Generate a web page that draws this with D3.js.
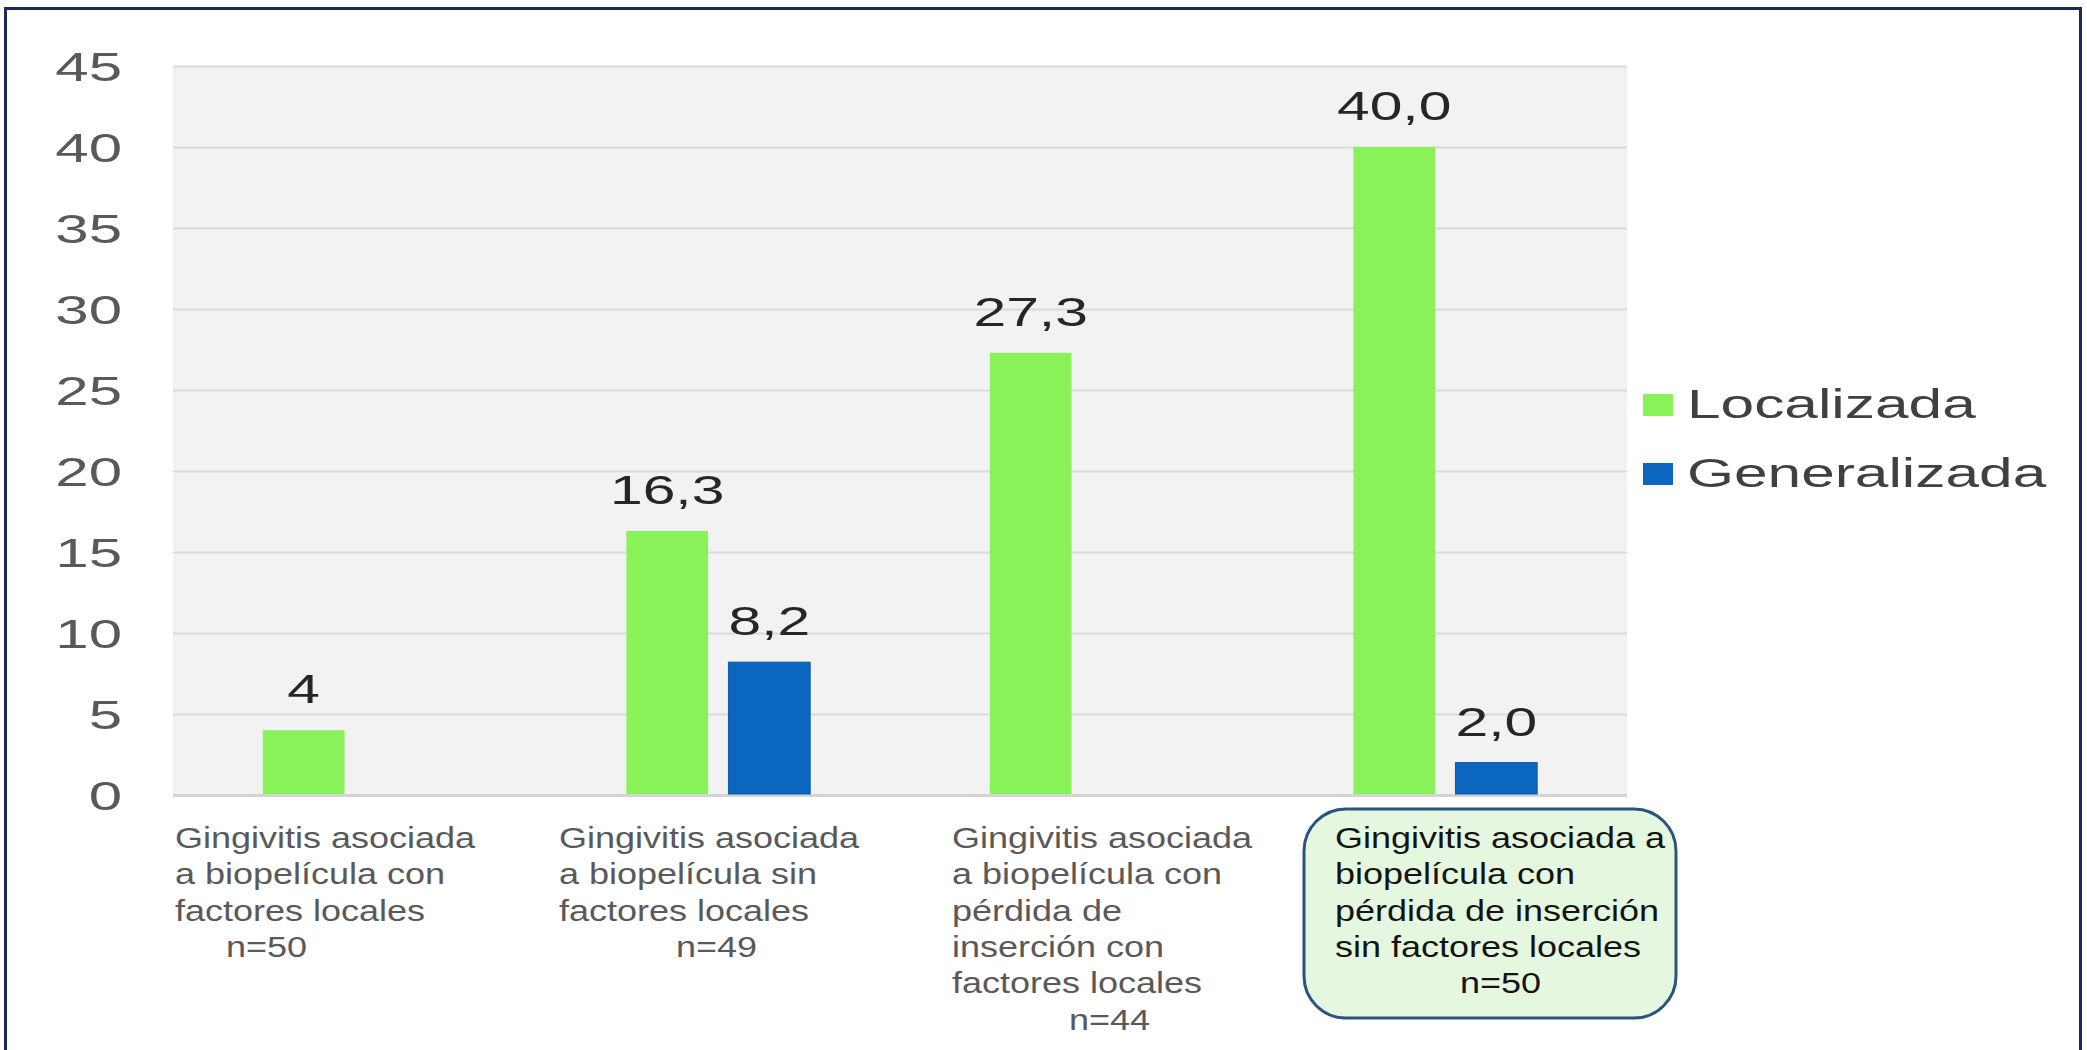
<!DOCTYPE html>
<html>
<head>
<meta charset="utf-8">
<script src="https://cdn.jsdelivr.net/npm/d3@7"></script>
<style>
  html, body { margin: 0; padding: 0; background: #ffffff; }
  svg { display: block; }
  text { font-family: "Liberation Sans", Arial, sans-serif; }
</style>
</head>
<body>
<svg id="chart" width="2087" height="1050"></svg>
<script>
// ---------- DATA ----------
const categories = ["G1", "G2", "G3", "G4"];
const seriesNames = ["Localizada", "Generalizada"];
const localizada = [4, 16.3, 27.3, 40.0];
const generalizada = [null, 8.2, null, 2.0];
const localizadaLabels = ["4", "16,3", "27,3", "40,0"];
const generalizadaLabels = [null, "8,2", null, "2,0"];
const yTicks = [0, 5, 10, 15, 20, 25, 30, 35, 40, 45];
const categoryLines = [
  ["Gingivitis asociada", "a biopelícula con", "factores locales"],
  ["Gingivitis asociada", "a biopelícula sin", "factores locales"],
  ["Gingivitis asociada", "a biopelícula con", "pérdida de", "inserción con", "factores locales"],
  ["Gingivitis asociada a", "biopelícula con", "pérdida de inserción", "sin factores locales"]
];
const categoryN = ["n=50", "n=49", "n=44", "n=50"];

// ---------- LAYOUT ----------
const svg = d3.select("#chart");
const plot = { left: 173, right: 1627, top: 66, bottom: 795 };
const colors = { Localizada: "#8af259", Generalizada: "#0a66be" };
const SX_TICK = 1.5;
const SX_VAL = 1.47;
const SX_LEG = 1.51;
const SX_CAT = 1.2;

// outer frame
svg.append("rect")
  .attr("x", 5.5).attr("y", 8.5).attr("width", 2075).attr("height", 1060)
  .attr("fill", "none").attr("stroke", "#1b2a5c").attr("stroke-width", 3);

// plot background
svg.append("rect")
  .attr("x", plot.left).attr("y", plot.top)
  .attr("width", plot.right - plot.left).attr("height", plot.bottom - plot.top)
  .attr("fill", "#f2f2f2");

const y = d3.scaleLinear().domain([0, 45]).range([plot.bottom, plot.top]);
const x0 = d3.scaleBand().domain(categories).range([plot.left, plot.right]).padding(0);
const x1 = d3.scaleBand().domain(seriesNames).range([0, x0.bandwidth()])
  .paddingInner(0.2).paddingOuter(0.88);

// y axis with gridlines
const yAxis = d3.axisLeft(y).tickValues(yTicks).tickSize(-(plot.right - plot.left)).tickPadding(0);
const gy = svg.append("g").attr("transform", `translate(${plot.left},0)`).call(yAxis);
gy.select(".domain").remove();
gy.selectAll(".tick line")
  .attr("stroke", d => d === 0 ? "#d4d4d4" : "#d9d9d9")
  .attr("stroke-width", d => d === 0 ? 3 : 2);
gy.selectAll(".tick text")
  .attr("x", -51 / SX_TICK)
  .attr("dy", "0.36em")
  .attr("transform", `scale(${SX_TICK},1)`)
  .attr("font-family", "'Liberation Sans', Arial, sans-serif")
  .attr("font-size", 40)
  .attr("fill", "#595959")
  .attr("text-anchor", "end");

// helper for stretched text
function stext(g, x, yy, str, size, fill, sx, anchor) {
  return g.append("text")
    .attr("transform", `translate(${x},${yy}) scale(${sx},1)`)
    .attr("font-size", size)
    .attr("fill", fill)
    .attr("text-anchor", anchor || "start")
    .text(str);
}

// bars
const barData = [];
categories.forEach((c, i) => {
  if (localizada[i] != null) barData.push({ c, s: "Localizada", v: localizada[i], label: localizadaLabels[i] });
  if (generalizada[i] != null) barData.push({ c, s: "Generalizada", v: generalizada[i], label: generalizadaLabels[i] });
});
const gBars = svg.append("g");
gBars.selectAll("rect").data(barData).enter().append("rect")
  .attr("x", d => x0(d.c) + x1(d.s))
  .attr("y", d => y(d.v))
  .attr("width", x1.bandwidth())
  .attr("height", d => y(0) - y(d.v) - 1)
  .attr("fill", d => colors[d.s])
  .attr("stroke", d => d.s === "Generalizada" ? "#0a5aa8" : "none")
  .attr("stroke-width", 1);

const gVals = svg.append("g");
barData.forEach(d => {
  stext(gVals, x0(d.c) + x1(d.s) + x1.bandwidth() / 2, y(d.v) - 27, d.label, 40, "#262626", SX_VAL, "middle");
});

// legend
const legend = svg.append("g");
seriesNames.forEach((s, i) => {
  legend.append("rect")
    .attr("x", 1643).attr("y", 394 + i * 69)
    .attr("width", 30).attr("height", 22)
    .attr("fill", colors[s]);
  stext(legend, 1687, 418 + i * 69, s, 40, "#404040", SX_LEG, "start");
});

// category labels
const labelLeft = [175, 559, 952, 1335];
const nLeft = [226, 676, 1069, 1460];
const lineGap = 36.3;
const firstBase = 848;

// highlight box for last category
svg.append("rect")
  .attr("x", 1304).attr("y", 809).attr("width", 372).attr("height", 209)
  .attr("rx", 42).attr("ry", 42)
  .attr("fill", "#e5f8df").attr("stroke", "#2a5480").attr("stroke-width", 3);

const gCat = svg.append("g");
categoryLines.forEach((lines, i) => {
  const fill = i === 3 ? "#141414" : "#595959";
  lines.forEach((ln, j) => {
    stext(gCat, labelLeft[i], firstBase + j * lineGap, ln, 30, fill, SX_CAT, "start");
  });
  stext(gCat, nLeft[i], firstBase + lines.length * lineGap, categoryN[i], 30, fill, SX_CAT, "start");
});
</script>
</body>
</html>
